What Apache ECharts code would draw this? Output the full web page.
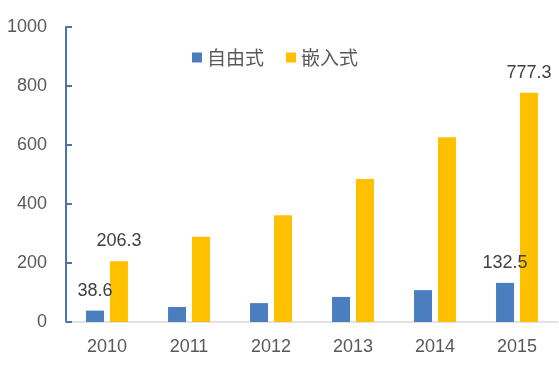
<!DOCTYPE html>
<html><head><meta charset="utf-8">
<script src="https://cdn.jsdelivr.net/npm/echarts@6/dist/echarts.min.js"></script>
<style>html,body{margin:0;padding:0;background:#fff}#c{width:559px;height:373px}</style>
</head><body><div id="c"></div>
<script>
const categories = ['2010','2011','2012','2013','2014','2015'];
const freeValues = [38.6, 51, 64, 85, 108, 132.5];
const embeddedValues = [206.3, 289, 362, 485, 626, 777.3];
const freeLabelIdx = [0, 5];
const embLabelIdx = [0, 5];
const seriesNames = ['自由式', '嵌入式'];
const yTicks = [0, 200, 400, 600, 800, 1000];

const chart = echarts.init(document.getElementById('c'));
const lbl = {show: true, position: 'top', distance: 11, color: '#404040', fontSize: 18, fontFamily: 'Liberation Sans, sans-serif'};
function mk(vals, idx) {
  return vals.map((v, i) => idx.includes(i) ? {value: v, label: lbl} : {value: v});
}
chart.setOption({
  animation: false,
  grid: {left: 66, right: 1, top: 27, bottom: 51},
  legend: {
    left: 187, top: 43, itemWidth: 10, itemHeight: 10, itemGap: 22,
    icon: 'rect',
    textStyle: {fontSize: 19, color: '#595959', fontFamily: 'Noto Sans CJK SC'},
    data: seriesNames
  },
  xAxis: {
    type: 'category', data: categories,
    axisLine: {lineStyle: {color: '#d9d9d9', width: 1.5}},
    axisTick: {show: false},
    axisLabel: {fontSize: 18, color: '#595959', margin: 16, fontFamily: 'Liberation Sans, sans-serif'}
  },
  yAxis: {
    type: 'value', min: yTicks[0], max: yTicks[yTicks.length - 1], interval: 200,
    axisLine: {show: true, lineStyle: {color: '#4f73a6', width: 2}},
    axisTick: {show: true, inside: true, length: 6, lineStyle: {color: '#4f73a6', width: 2}},
    splitLine: {show: false},
    axisLabel: {fontSize: 18, color: '#595959', margin: 19, fontFamily: 'Liberation Sans, sans-serif', formatter: v => String(v)}
  },
  series: [
    {name: seriesNames[0], type: 'bar', data: mk(freeValues, freeLabelIdx), barWidth: 18, barGap: '33%', itemStyle: {color: '#4a7ebf'}},
    {name: seriesNames[1], type: 'bar', data: mk(embeddedValues, embLabelIdx), barWidth: 18, itemStyle: {color: '#ffc000'}}
  ]
});
</script></body></html>
